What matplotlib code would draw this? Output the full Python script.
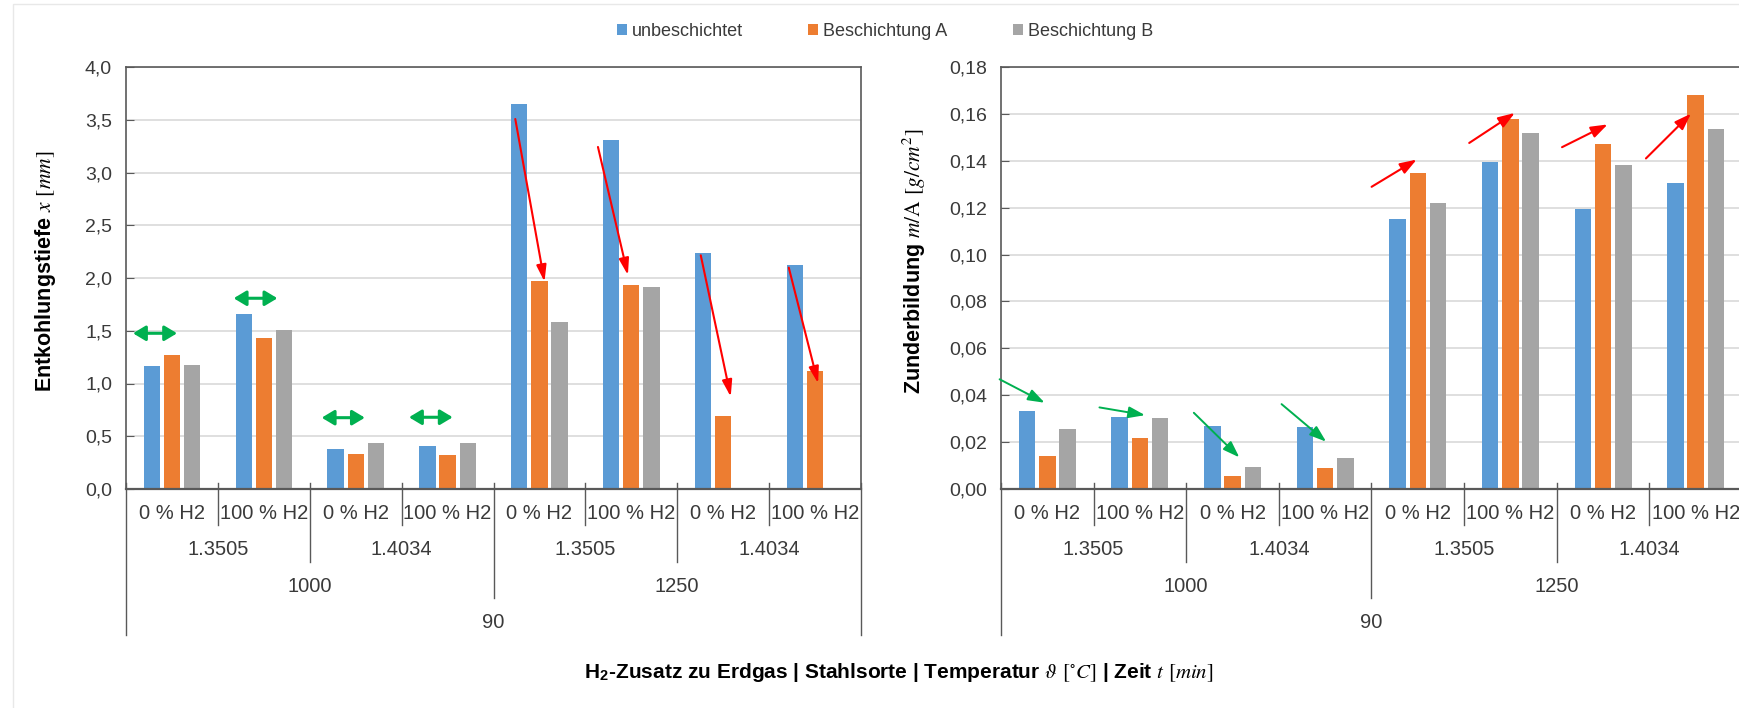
import numpy as np
import matplotlib.pyplot as plt
from matplotlib.patches import Patch, Rectangle
from matplotlib.ticker import FuncFormatter

plt.rcParams['font.family'] = ['Liberation Sans', 'DejaVu Sans']

# --- data ---
series = ['unbeschichtet', 'Beschichtung A', 'Beschichtung B']
colors = ['#5B9BD5', '#ED7D31', '#A5A5A5']

h2_labels = ['0 % H2', '100 % H2'] * 4
steel_labels = ['1.3505', '1.4034'] * 2
temp_labels = ['1000', '1250']
time_labels = ['90']

# Entkohlungstiefe x [mm]
depth_unbesch = [1.17, 1.66, 0.38, 0.41, 3.65, 3.31, 2.24, 2.12]
depth_a = [1.27, 1.43, 0.335, 0.325, 1.97, 1.93, 0.695, 1.12]
depth_b = [1.18, 1.51, 0.44, 0.44, 1.585, 1.91, np.nan, np.nan]

# Zunderbildung m/A [g/cm2]
scale_unbesch = [0.0334, 0.0307, 0.0267, 0.0264, 0.1151, 0.1394, 0.1195, 0.1304]
scale_a = [0.0139, 0.0219, 0.0055, 0.0090, 0.1347, 0.1579, 0.1472, 0.1682]
scale_b = [0.0257, 0.0304, 0.0095, 0.0132, 0.1222, 0.1519, 0.1384, 0.1537]

# annotation arrows (start x, start y, end x, end y) in data units
depth_green = [(-0.424, 1.476, 0.056, 1.476), (0.672, 1.808, 1.148, 1.808),
               (1.630, 0.676, 2.100, 0.676), (2.580, 0.680, 3.056, 0.680)]
depth_red = [(3.737, 3.507, 4.055, 1.965), (4.637, 3.242, 4.963, 2.028),
             (5.756, 2.215, 6.082, 0.875), (6.714, 2.098, 7.033, 1.002)]
scale_green = [(-0.515, 0.0468, -0.029, 0.0368), (0.563, 0.0348, 1.055, 0.0315),
               (1.582, 0.0325, 2.073, 0.0135), (2.529, 0.0362, 3.010, 0.0202)]
scale_red = [(3.501, 0.1289, 3.987, 0.1405), (4.555, 0.1476, 5.047, 0.1604),
             (5.557, 0.1458, 6.049, 0.1555), (6.463, 0.1410, 6.949, 0.1601)]

W, H = 1740, 708
fig = plt.figure(figsize=(W / 100, H / 100), dpi=100)

# faint outer chart border
fig.patches.append(Rectangle((13 / W, -0.1), 1.2, 1 - 4 / H + 0.1, transform=fig.transFigure,
                             fill=False, ec='#E8E8E8', lw=1))

txt_col = '#3a3a3a'
line_col = '#595959'


def category_axis(ax):
    tr = ax.get_xaxis_transform()
    levels = [(1, h2_labels, -0.057), (2, steel_labels, -0.1445),
              (4, temp_labels, -0.232), (8, time_labels, -0.3175)]
    sep_bottom = {1: -0.085, 2: -0.173, 4: -0.258, 8: -0.346}
    done = set()
    for size, labels, ypos in levels:
        for j, lab in enumerate(labels):
            ax.text(size * j + (size - 1) / 2, ypos, lab, transform=tr, ha='center', va='center',
                    fontsize=14.5, color=txt_col, clip_on=False)
    for size in [8, 4, 2, 1]:
        n = len(h2_labels) // size
        for j in range(n + 1):
            xb = size * j - 0.5
            if xb in done:
                continue
            done.add(xb)
            ax.plot([xb, xb], [0.014, sep_bottom[size]], transform=tr, color=line_col,
                    lw=1, clip_on=False)


def draw_panel(ax, vals, ymax, ystep, ndig):
    x = np.arange(len(h2_labels))
    for k, (v, c) in enumerate(zip(vals, colors)):
        ax.bar(x + (k - 1) * 0.219, v, width=0.178, color=c, zorder=3)
    ax.set_xlim(-0.5, 7.5)
    ax.set_ylim(0, ymax)
    ax.set_yticks(np.arange(0, ymax + ystep / 2, ystep))
    ax.yaxis.set_major_formatter(FuncFormatter(lambda v, p: f'{v:.{ndig}f}'.replace('.', ',')))
    ax.set_xticks([])
    ax.grid(axis='y', color='#D9D9D9', lw=1.2, zorder=0)
    ax.tick_params(axis='y', direction='in', length=6, color=line_col, labelsize=14,
                   labelcolor=txt_col, pad=10)
    for s in ax.spines.values():
        s.set_color(line_col)
        s.set_linewidth(1.2)
    ax.spines['bottom'].set_linewidth(1.6)
    ax.spines['bottom'].set_zorder(4)
    category_axis(ax)


def arrows(ax, lst, color, style, lw):
    for x0, y0, x1, y1 in lst:
        ax.annotate('', xy=(x1, y1), xytext=(x0, y0),
                    arrowprops=dict(arrowstyle=style, color=color, lw=lw, shrinkA=0, shrinkB=0),
                    annotation_clip=False, zorder=5)


ax1 = fig.add_axes([126 / W, 1 - 489 / H, 735 / W, 422 / H])
draw_panel(ax1, [depth_unbesch, depth_a, depth_b], 4.0, 0.5, 1)
arrows(ax1, depth_green, '#00B050', '<|-|>,head_length=0.75,head_width=0.45', 2.2)
arrows(ax1, depth_red, '#FF0000', '-|>,head_length=1.0,head_width=0.3', 1.5)
ax1.set_ylabel(r'Entkohlungstiefe $\mathit{x}$ $[\mathit{mm}]$', fontsize=15.5,
               fontweight='bold', color='black', math_fontfamily='stix')
ax1.yaxis.set_label_coords(-0.093, 0.515)

ax2 = fig.add_axes([1001 / W, 1 - 489 / H, 741 / W, 422 / H])
draw_panel(ax2, [scale_unbesch, scale_a, scale_b], 0.18, 0.02, 2)
arrows(ax2, scale_green, '#00B050', '-|>,head_length=1.0,head_width=0.35', 1.4)
arrows(ax2, scale_red, '#FF0000', '-|>,head_length=1.0,head_width=0.35', 1.5)
ax2.set_ylabel(r'Zunderbildung $\mathit{m}/\mathrm{A}$ $[\mathit{g/cm}^{2}]$', fontsize=15.5,
               fontweight='bold', color='black', math_fontfamily='stix')
ax2.yaxis.set_label_coords(-0.099, 0.539)

handles = [Patch(facecolor=c, edgecolor='none', label=s) for s, c in zip(series, colors)]
fig.legend(handles=handles, loc='center', bbox_to_anchor=(885 / W, 1 - 31 / H), ncol=3,
           frameon=False, fontsize=13, handlelength=0.55, handleheight=0.55,
           handletextpad=0.3, columnspacing=3.6, labelcolor=txt_col)

fig.text(899 / W, 1 - 672 / H,
         r'H$_\mathregular{2}$-Zusatz zu Erdgas | Stahlsorte | Temperatur $\vartheta$ $[^{\circ}C]$'
         r' | Zeit $\mathit{t}$ $[min]$',
         ha='center', va='center', fontsize=15, fontweight='bold', math_fontfamily='stix')

fig.savefig('out.png', dpi=100)
